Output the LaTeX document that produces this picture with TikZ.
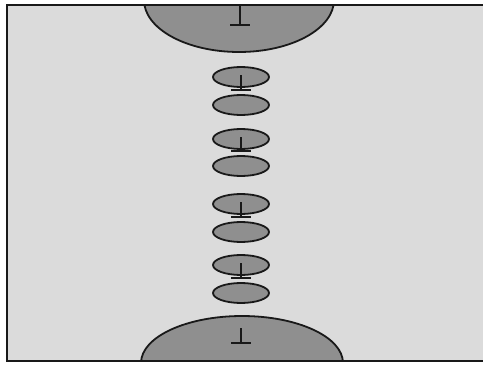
\documentclass[tikz,border=0pt]{standalone}
\usepackage{tikz}
\usetikzlibrary{shapes.geometric,calc}
\definecolor{chamber}{gray}{0.86}
\definecolor{cellfill}{gray}{0.56}
\definecolor{edge}{gray}{0.1}

\begin{document}
\begin{tikzpicture}[x=1pt,y=-1pt,
	cell/.style={ellipse,draw=edge,fill=cellfill,line width=1.8pt,inner sep=0pt,minimum width=56pt,minimum height=20pt},
	plate/.style={draw=edge,fill=cellfill,line width=1.8pt},
	tbar/.style={draw=edge,line width=2.2pt}]
\useasboundingbox (0,0) rectangle (483,367);
\fill[white] (0,0) rectangle (483,367);
\fill[chamber] (7,5) rectangle (483,361);
% electrode plates, cut by the frame
\begin{scope}
\clip (7,5) rectangle (483,361);
\draw[plate] (239,0) ellipse [x radius=95, y radius=52];
\draw[plate] (242,363) ellipse [x radius=101, y radius=47];
\end{scope}
\coordinate (topstem) at (240,5);
\coordinate (topbar) at (240,25);
\draw[tbar] (topstem) -- (topbar);
\draw[tbar] ([xshift=-10pt]topbar) -- ([xshift=10pt]topbar);
\coordinate (botstem) at (241,328);
\coordinate (botbar) at (241,343);
\draw[tbar] (botstem) -- (botbar);
\draw[tbar] ([xshift=-10pt]botbar) -- ([xshift=10pt]botbar);
% cell pairs
\foreach \i/\ya/\yb in {1/77/105, 2/139/166, 3/204/232, 4/265/293}{
	\node[cell] (up\i) at (241,\ya) {};
	\node[cell] (low\i) at (241,\yb) {};
	\coordinate (bar\i) at ($(low\i.north)+(0,-4)$);
	\draw[tbar] ([yshift=2pt]up\i.center) -- (bar\i);
	\draw[tbar] ([xshift=-10pt]bar\i) -- ([xshift=10pt]bar\i);
}
% frame
\draw[edge,line width=2.2pt] (483,5) -- (7,5) -- (7,361) -- (483,361);
\end{tikzpicture}
\end{document}
